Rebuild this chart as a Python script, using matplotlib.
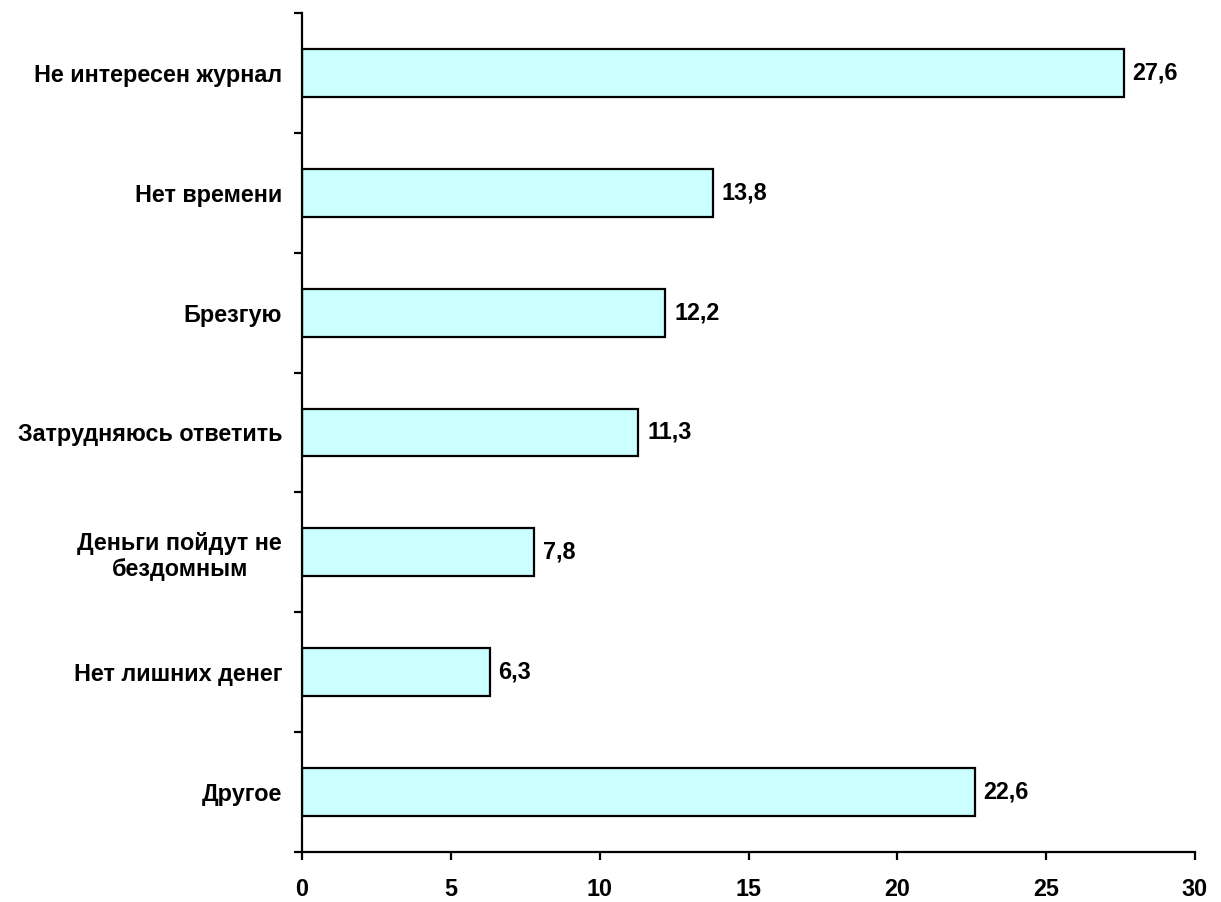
import matplotlib
matplotlib.use("Agg")
import matplotlib.pyplot as plt

categories = ["Не интересен журнал", "Нет времени", "Брезгую", "Затрудняюсь ответить",
              "Деньги пойдут не\nбездомным", "Нет лишних денег", "Другое"]
values = [27.6, 13.8, 12.2, 11.3, 7.8, 6.3, 22.6]
value_labels = ["27,6", "13,8", "12,2", "11,3", "7,8", "6,3", "22,6"]
xticks = [0, 5, 10, 15, 20, 25, 30]

plt.rcParams['font.family'] = ['Liberation Sans', 'DejaVu Sans']
plt.rcParams['font.weight'] = 'bold'
FS = 16.8

fig = plt.figure(figsize=(12.21, 9.02), dpi=100)
ax = fig.add_axes([302/1221, 1-852/902, (1195-302)/1221, (852-13)/902])

n = len(categories)
ypos = list(range(n - 1, -1, -1))
ax.barh(ypos, values, height=0.4, color="#CCFFFF", edgecolor="black", linewidth=1.6)
for y, v, lab in zip(ypos, values, value_labels):
    ax.text(v + 0.3, y, lab, va="center", ha="left", fontsize=FS, fontweight="bold")

ax.set_xlim(0, 30)
ax.set_ylim(-0.5, n - 0.5)
ax.set_xticks(xticks)
ax.set_xticklabels([str(t) for t in xticks], fontsize=FS, fontweight="bold")

ax.set_yticks([i - 0.5 for i in range(n + 1)])
ax.set_yticklabels([])
ax.set_yticks(ypos, minor=True)
ax.set_yticklabels(categories, minor=True, fontsize=FS, fontweight="bold")
for lbl in ax.get_yticklabels(minor=True):
    lbl.set_horizontalalignment("right")
    lbl.set_multialignment("center")
ax.tick_params(axis="y", which="minor", length=0, pad=14.4)
ax.tick_params(axis="y", which="major", direction="out", length=6, width=1.6)
ax.tick_params(axis="x", direction="out", length=6, width=1.6, pad=13)

for s in ["top", "right"]:
    ax.spines[s].set_visible(False)
for s in ["left", "bottom"]:
    ax.spines[s].set_linewidth(1.6)

fig.savefig("out.png", dpi=100)
